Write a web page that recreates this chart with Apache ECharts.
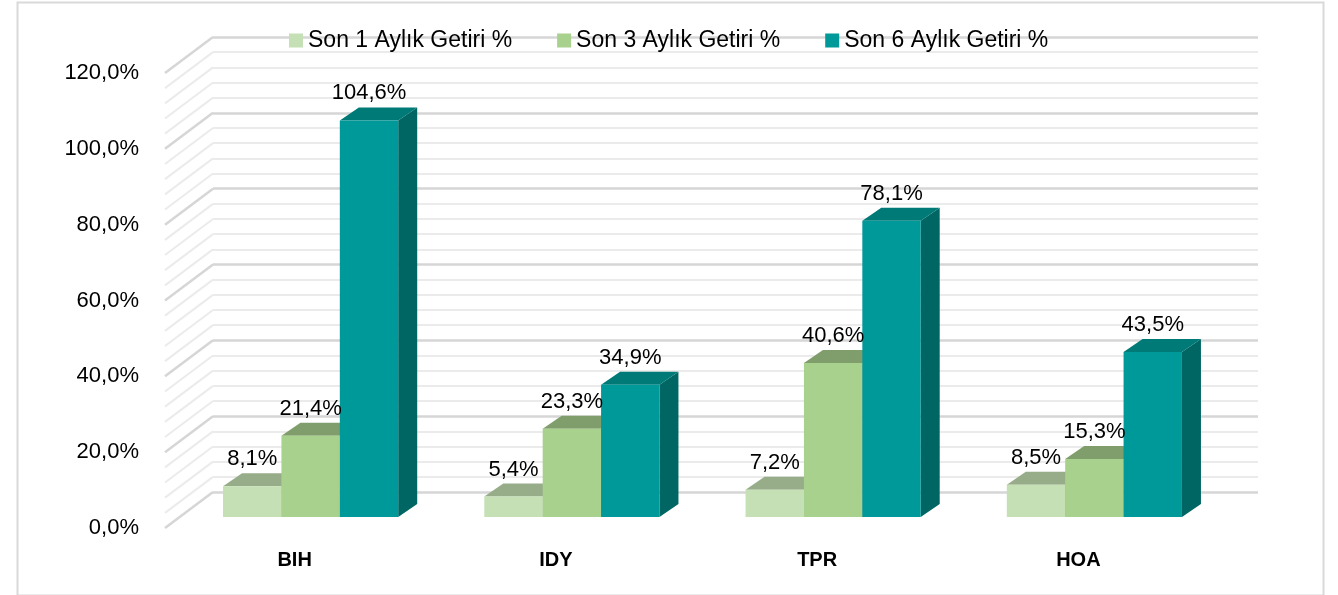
<!DOCTYPE html>
<html>
<head>
<meta charset="utf-8">
<script src="https://cdn.jsdelivr.net/npm/echarts@6/dist/echarts.min.js"></script>
<style>
html,body{margin:0;padding:0;background:#fff;}
#chart{width:1338px;height:595px;}
</style>
</head>
<body>
<div id="chart"></div>
<script>
// ---- data ----
var categories = ['BIH', 'IDY', 'TPR', 'HOA'];
var seriesNames = ['Son 1 Aylık Getiri %', 'Son 3 Aylık Getiri %', 'Son 6 Aylık Getiri %'];
var son1Aylik = [8.1, 5.4, 7.2, 8.5];
var son3Aylik = [21.4, 23.3, 40.6, 15.3];
var son6Aylik = [104.6, 34.9, 78.1, 43.5];
var yMin = 0, yMax = 120, yStep = 20, yMinorSplit = 5;

// ---- styles ----
var FONT = '"Liberation Sans", Arial, sans-serif';
var frontCol = ['#c5e0b4', '#a9d18e', '#009999'];
var topCol   = ['#97ad89', '#809e6b', '#007a77'];
var sideCol  = ['#8fa582', '#7a9766', '#006663'];
var BAR_DX = 19, BAR_DY = -13;        // bar depth
var WALL_DX = 48, WALL_DY = -36;      // side wall depth
var majorCol = '#d6d6d6', minorCol = '#ebebeb';

function fmt(v) { return v.toFixed(1).replace('.', ',') + '%'; }

var allSeriesData = [son1Aylik, son3Aylik, son6Aylik];

function barRender(si) {
  return function (params, api) {
    var cat = api.value(0), v = api.value(1);
    var base = api.coord([cat, 0]);
    var topP = api.coord([cat, v]);
    var band = api.size([1, 0])[0];
    var bw = band * 0.2235;
    var x0 = base[0] - 1.5 * bw + si * bw;
    var x1 = x0 + bw;
    var yt = topP[1], yb = base[1];
    return {
      type: 'group',
      children: [
        { type: 'polygon', shape: { points: [[x1, yt], [x1 + BAR_DX, yt + BAR_DY], [x1 + BAR_DX, yb + BAR_DY], [x1, yb]] }, style: { fill: sideCol[si] } },
        { type: 'polygon', shape: { points: [[x0, yt], [x0 + BAR_DX, yt + BAR_DY], [x1 + BAR_DX, yt + BAR_DY], [x1, yt]] }, style: { fill: topCol[si] } },
        { type: 'rect', shape: { x: x0, y: yt, width: bw, height: yb - yt }, style: { fill: frontCol[si] } },
        { type: 'text', z2: 100, style: { x: (x0 + x1) / 2, y: yt - 27, text: fmt(v), fill: '#000', font: '22px ' + FONT, align: 'center', verticalAlign: 'middle' } }
      ]
    };
  };
}

var wallTicks = [];
for (var t = yMin; t <= yMax + 1e-9; t += yStep / yMinorSplit) wallTicks.push([0, Math.round(t * 100) / 100]);

function wallRender(params, api) {
  var v = api.value(1);
  var y = api.coord([0, v])[1];
  var x = params.coordSys.x;
  var major = Math.abs(v % yStep) < 1e-6;
  return {
    type: 'line',
    shape: { x1: x, y1: y, x2: x - WALL_DX, y2: y - WALL_DY },
    style: { stroke: major ? majorCol : minorCol, lineWidth: major ? 2.5 : 2 }
  };
}

var series = [];
seriesNames.forEach(function (name, si) {
  series.push({
    name: name,
    type: 'custom',
    xAxisIndex: 0, yAxisIndex: 0,
    itemStyle: { color: frontCol[si] },
    renderItem: barRender(si),
    clip: false,
    z: 5,
    data: categories.map(function (c, i) { return [i, allSeriesData[si][i]]; })
  });
});
series.push({
  name: 'wall',
  type: 'custom',
  xAxisIndex: 2, yAxisIndex: 2,
  renderItem: wallRender,
  clip: false,
  silent: true,
  z: 1,
  data: wallTicks
});

var chart = echarts.init(document.getElementById('chart'), null, { renderer: 'canvas' });
chart.setOption({
  animation: false,
  backgroundColor: '#fff',
  graphic: [{
    type: 'rect', left: 15, top: 0, silent: true,
    shape: { width: 1306, height: 593 },
    style: { fill: 'none', stroke: '#d9d9d9', lineWidth: 2 }
  }],
  legend: {
    data: seriesNames,
    left: 284, top: 24,
    icon: 'rect', itemWidth: 14, itemHeight: 14, itemGap: 45,
    textStyle: { fontSize: 23, color: '#000', fontFamily: FONT }
  },
  grid: [
    { left: 180, top: 62, width: 1045, height: 455 },   // bar front plane
    { left: 164, top: 73, width: 1045, height: 455 },   // front plane (labels)
    { left: 213, top: 37, width: 1045, height: 455 }    // back wall
  ],
  xAxis: [
    { gridIndex: 0, type: 'category', data: categories, show: false },
    { gridIndex: 1, type: 'category', data: categories,
      axisLine: { show: false }, axisTick: { show: false },
      axisLabel: { margin: 22, fontSize: 20, fontWeight: 'bold', color: '#000', fontFamily: FONT } },
    { gridIndex: 2, type: 'category', data: categories, show: false }
  ],
  yAxis: [
    { gridIndex: 0, type: 'value', min: yMin, max: yMax, interval: yStep, show: false, splitLine: { show: false } },
    { gridIndex: 1, type: 'value', min: yMin, max: yMax, interval: yStep,
      axisLine: { show: false }, axisTick: { show: false }, splitLine: { show: false },
      axisLabel: { margin: 25, fontSize: 22, color: '#000', fontFamily: FONT, formatter: function (v) { return fmt(v); } } },
    { gridIndex: 2, type: 'value', min: yMin, max: yMax, interval: yStep,
      axisLine: { show: false }, axisTick: { show: false }, axisLabel: { show: false },
      splitLine: { show: true, lineStyle: { color: majorCol, width: 2.5 } },
      minorTick: { show: false, splitNumber: yMinorSplit },
      minorSplitLine: { show: true, lineStyle: { color: minorCol, width: 2 } } }
  ],
  series: series
});
</script>
</body>
</html>
